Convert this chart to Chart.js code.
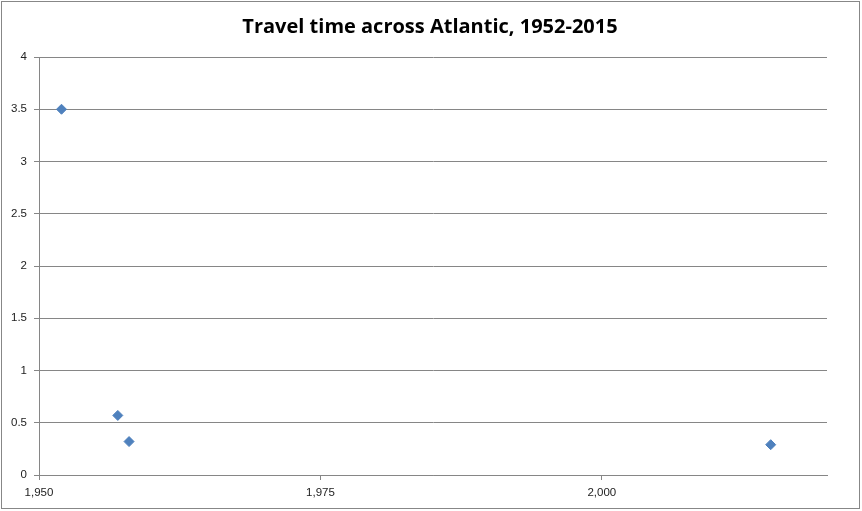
<!DOCTYPE html>
<html>
<head>
<meta charset="utf-8">
<script src="https://cdn.jsdelivr.net/npm/chart.js@4"></script>
<style>
  body { margin: 0; background: #fff; }
  #wrap { width: 862px; height: 511px; }
</style>
</head>
<body>
<div id="wrap"><canvas id="myChart" width="862" height="511"></canvas></div>
<script>
  const chartTitle = "Travel time across Atlantic, 1952-2015";
  const years = [1952, 1957, 1958, 2015];
  const travelDays = [3.5, 0.57, 0.32, 0.29];
  const xTicks = [1950, 1975, 2000];
  const yTicks = [0, 0.5, 1, 1.5, 2, 2.5, 3, 3.5, 4];

  const gridColor = "#868686";
  const labelFont = { family: "Liberation Sans", size: 11.5 };

  // title + outer frame, drawn like the Excel chart
  const framePlugin = {
    id: "frame",
    afterDraw(chart) {
      const ctx = chart.ctx;
      ctx.save();
      ctx.strokeStyle = "#878787";
      ctx.lineWidth = 1;
      ctx.strokeRect(1.5, 1.5, 858, 507);
      ctx.fillStyle = "#000";
      ctx.font = "bold 20px 'Open Sans', sans-serif";
      ctx.textAlign = "center";
      ctx.textBaseline = "middle";
      ctx.fillText(chartTitle, 430, 27);
      ctx.restore();
    },
  };

  new Chart(document.getElementById("myChart"), {
    type: "scatter",
    data: {
      datasets: [
        {
          data: years.map((y, i) => ({ x: y, y: travelDays[i] })),
          backgroundColor: "#4F81BD",
          borderColor: "#4F81BD",
          pointStyle: "rectRot",
          pointRadius: 5,
          pointHoverRadius: 5,
        },
      ],
    },
    options: {
      responsive: false,
      animation: false,
      layout: { padding: { top: 57, right: 35, bottom: 0, left: 0 } },
      scales: {
        x: {
          type: "linear",
          min: 1950,
          max: 2020,
          afterBuildTicks: (scale) => {
            scale.ticks = xTicks.map((v) => ({ value: v }));
          },
          afterFit: (scale) => {
            scale.height = 36;
          },
          grid: {
            drawOnChartArea: false,
            color: gridColor,
            tickLength: 5,
          },
          border: { color: gridColor },
          ticks: {
            font: labelFont,
            color: "#222",
            padding: 6,
            callback: (v) => v.toLocaleString("en-US"),
          },
        },
        y: {
          min: 0,
          max: 4,
          afterBuildTicks: (scale) => {
            scale.ticks = yTicks.map((v) => ({ value: v }));
          },
          afterFit: (scale) => {
            scale.width = 39;
          },
          grid: {
            color: gridColor,
            tickLength: 5,
          },
          border: { color: gridColor },
          ticks: {
            font: labelFont,
            color: "#222",
            padding: 7,
            callback: (v) => String(v),
          },
        },
      },
      plugins: {
        legend: { display: false },
        tooltip: { enabled: false },
      },
    },
    plugins: [framePlugin],
  });
</script>
</body>
</html>
